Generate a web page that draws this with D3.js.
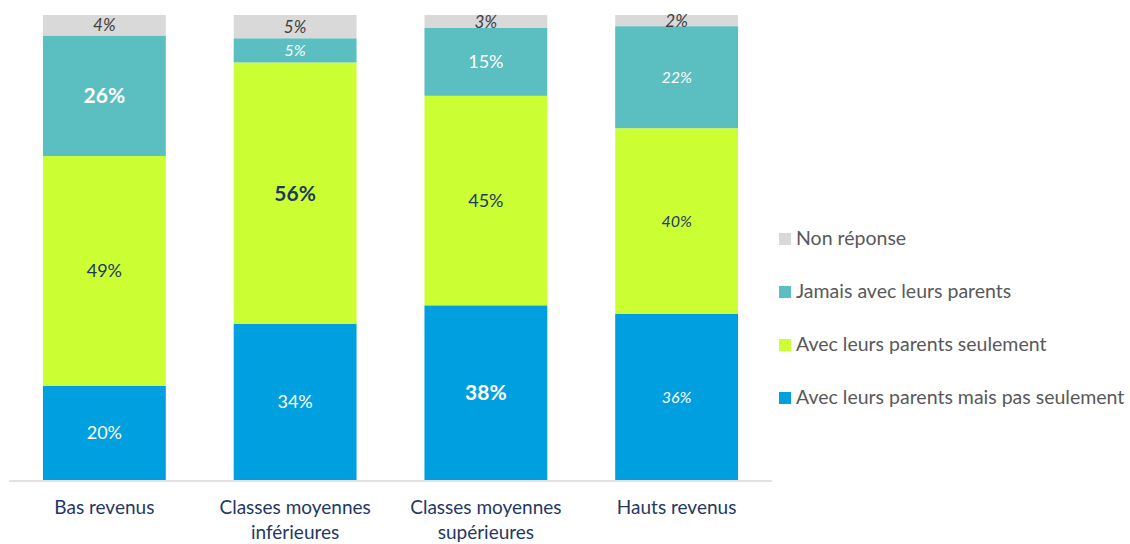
<!DOCTYPE html>
<html>
<head>
<meta charset="utf-8">
<script src="https://cdn.jsdelivr.net/npm/d3@7"></script>
<style>
  html, body { margin: 0; padding: 0; background: #fff; }
  svg { display: block; font-family: Lato, "Open Sans", sans-serif; }
</style>
</head>
<body>
<svg id="chart" width="1130" height="544"></svg>
<script>
// ---- data ----
const categories = [
  ["Bas revenus"],
  ["Classes moyennes", "inférieures"],
  ["Classes moyennes", "supérieures"],
  ["Hauts revenus"]
];
const seriesNames = [
  "Avec leurs parents mais pas seulement",
  "Avec leurs parents seulement",
  "Jamais avec leurs parents",
  "Non réponse"
];
const avecMaisPasSeulement = [20.2, 33.6, 37.6, 35.7];
const avecSeulement        = [49.4, 56.2, 45.1, 39.8];
const jamais               = [25.9, 5.2, 14.6, 21.9];
const nonReponse           = [4.4, 5.0, 2.8, 2.4];

// ---- styles ----
const colors = ["#009fe0", "#ccff33", "#5bbec0", "#d9d9d9"];
const textColors = ["#ffffff", "#1f3864", "#ffffff", "#404040"];
// label style per category per series: n = normal, b = bold, i = italic
const labelStyle = [
  ["n", "n", "b", "i"],
  ["n", "b", "i", "i"],
  ["b", "n", "n", "i"],
  ["i", "i", "i", "i"]
];
const seriesValues = [avecMaisPasSeulement, avecSeulement, jamais, nonReponse];

const rows = categories.map((c, i) => {
  const o = { key: i };
  seriesValues.forEach((s, j) => o["s" + j] = s[i]);
  return o;
});
const keys = seriesValues.map((_, j) => "s" + j);
const stacked = d3.stack().keys(keys).offset(d3.stackOffsetExpand)(rows);

const svg = d3.select("#chart");
const x = d3.scaleBand().domain(d3.range(categories.length))
  .range([9, 772]).paddingInner(0.356).paddingOuter(0.178);
const y = d3.scaleLinear().domain([0, 1]).range([480, 15]);

// bars
const g = svg.append("g");
stacked.forEach((layer, j) => {
  g.selectAll(null).data(layer).enter().append("rect")
    .attr("x", (d, i) => x(i))
    .attr("width", x.bandwidth())
    .attr("y", d => y(d[1]))
    .attr("height", d => y(d[0]) - y(d[1]))
    .attr("fill", colors[j]);
});

// labels
stacked.forEach((layer, j) => {
  g.selectAll(null).data(layer).enter().append("text")
    .attr("x", (d, i) => x(i) + x.bandwidth() / 2)
    .attr("y", d => (y(d[0]) + y(d[1])) / 2)
    .attr("dy", "0.36em")
    .attr("text-anchor", "middle")
    .attr("fill", textColors[j])
    .style("font-weight", (d, i) => labelStyle[i][j] === "b" ? "bold" : "normal")
    .style("font-style", (d, i) => labelStyle[i][j] === "i" ? "italic" : "normal")
    .style("font-size", (d, i) => {
      const s = labelStyle[i][j];
      if (s === "b") return "21px";
      if (j === 3) return "17px";
      if (s === "i") return "16px";
      return "18px";
    })
    .text((d, i) => Math.round(seriesValues[j][i]) + "%");
});

// x axis line
svg.append("line")
  .attr("x1", 9).attr("x2", 772)
  .attr("y1", 481).attr("y2", 481)
  .attr("stroke", "#d9d9d9").attr("stroke-width", 1.5);

// category labels
const xa = svg.append("g");
categories.forEach((lines, i) => {
  const t = xa.append("text")
    .attr("x", x(i) + x.bandwidth() / 2)
    .attr("y", 514)
    .attr("text-anchor", "middle")
    .attr("fill", "#1f3864")
    .style("font-size", "19px");
  lines.forEach((l, k) => {
    t.append("tspan").attr("x", x(i) + x.bandwidth() / 2)
      .attr("dy", k === 0 ? 0 : 24.5).text(l);
  });
});

// legend (top to bottom: reverse order)
const legendOrder = [3, 2, 1, 0];
const lg = svg.append("g");
legendOrder.forEach((j, k) => {
  const yy = 233 + k * 53;
  lg.append("rect").attr("x", 779).attr("y", yy).attr("width", 12).attr("height", 12)
    .attr("fill", colors[j]);
  lg.append("text").attr("x", 796).attr("y", yy + 12)
    .attr("fill", "#595959").style("font-size", "19.5px")
    .text(seriesNames[j]);
});
</script>
</body>
</html>
